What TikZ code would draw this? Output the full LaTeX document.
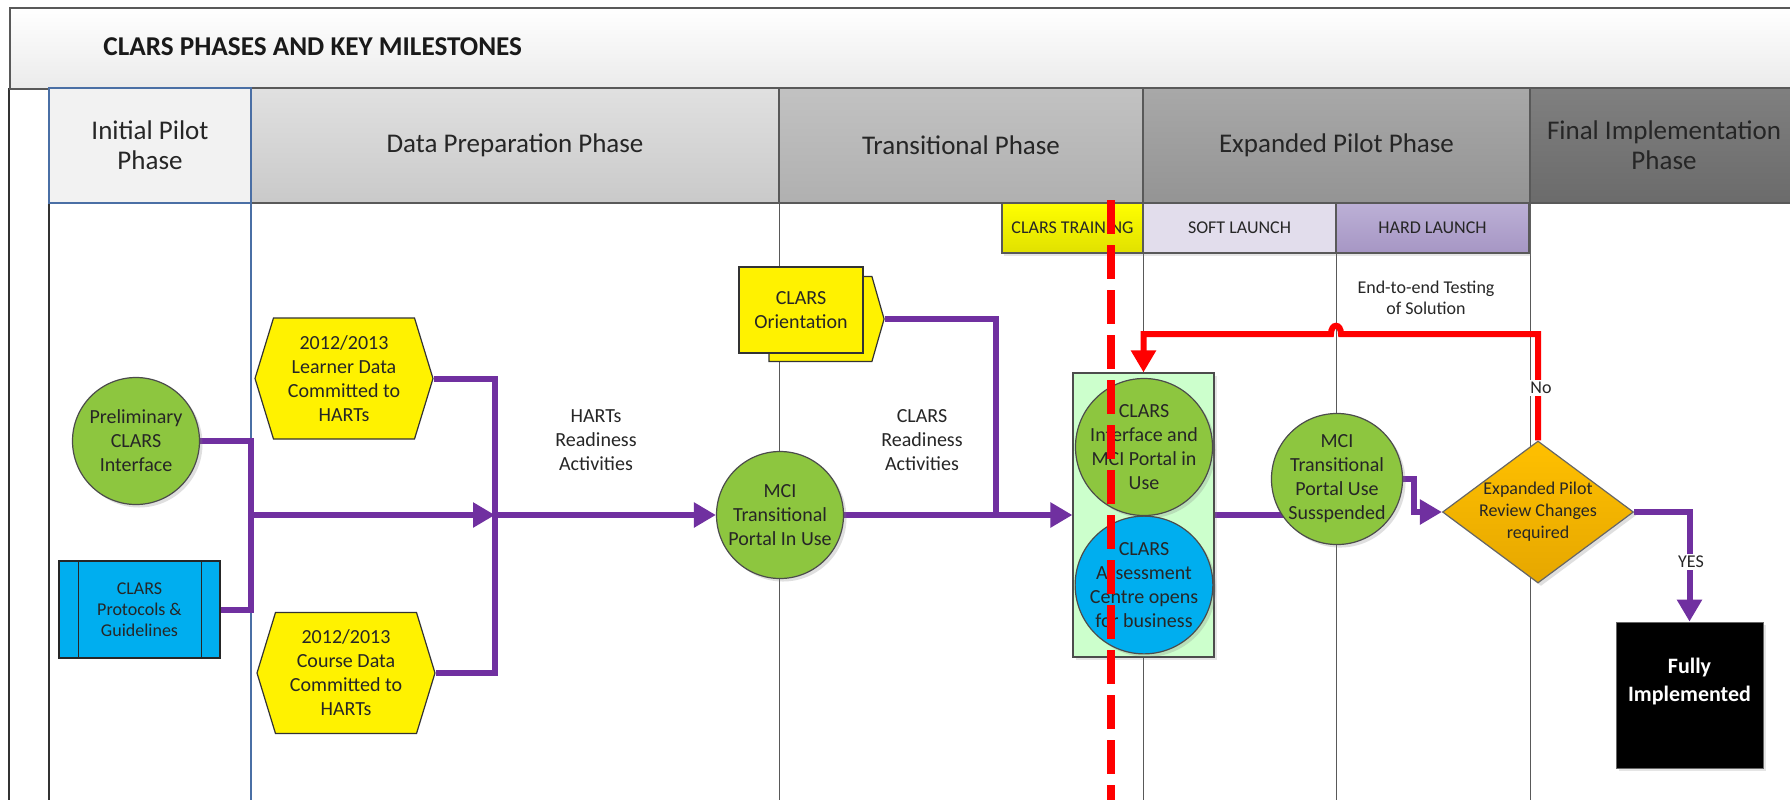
\documentclass[tikz,border=0pt]{standalone}
\usepackage{fontspec}
\setmainfont{Carlito}
\usepackage{xcolor}
\usetikzlibrary{shapes.geometric, shapes.symbols}
\usetikzlibrary{arrows.meta}
\usetikzlibrary{backgrounds, shadows}

\definecolor{clarsgreen}{HTML}{8DC63F}
\definecolor{clarsblue}{HTML}{00AEEF}
\definecolor{clarspurple}{HTML}{7030A0}
\definecolor{linegray}{HTML}{595959}
\definecolor{textgray}{HTML}{262626}
\definecolor{laneblue}{HTML}{4A6FA5}
\definecolor{boxgreen}{HTML}{CCFFCC}
\definecolor{softlilac}{HTML}{E2DDEC}
\definecolor{hardtop}{HTML}{BCB0D6}
\definecolor{hardbottom}{HTML}{A696C4}
\definecolor{goldtop}{HTML}{FFC000}
\definecolor{goldbottom}{HTML}{E6A700}

\tikzset{
  lanehead/.style={draw=linegray, line width=0.7pt, align=center, inner sep=0pt,
    minimum height=57.5pt, text=textgray, font=\fontsize{13.5}{15}\selectfont},
  subhead/.style={draw=linegray, line width=0.6pt, inner sep=0pt, minimum height=25pt,
    minimum width=96.5pt, text=textgray, font=\fontsize{9}{10}\selectfont,
    drop shadow={opacity=0.2, shadow xshift=1pt, shadow yshift=-1.5pt}},
  milestone/.style={circle, draw=black!70, line width=0.6pt, fill=clarsgreen, minimum size=63.5pt,
    inner sep=0pt, align=center, text=textgray, font=\fontsize{10}{12}\selectfont,
    drop shadow={opacity=0.25, shadow xshift=1.5pt, shadow yshift=-1.5pt}},
  datahex/.style={signal, signal to=east and west, signal pointer angle=146, draw=black!80,
    line width=0.6pt, fill=yellow, minimum width=89pt, minimum height=60.5pt, inner sep=0pt,
    align=center, text=textgray, font=\fontsize{10}{12}\selectfont},
  note/.style={align=center, text=textgray, font=\fontsize{10}{12}\selectfont},
  laneline/.style={draw=linegray, line width=0.5pt},
  flow/.style={draw=clarspurple, line width=3pt},
  flowarrow/.style={flow, -{Triangle[length=11pt, width=12pt]}},
  redflow/.style={draw=red, line width=3pt, -{Triangle[length=11pt, width=12pt]}},
}

\begin{document}
\begin{tikzpicture}[x=0.5pt, y=-0.5pt]
  \useasboundingbox (0,0) rectangle (1790,800);
  \clip (0,0) rectangle (1790,800);
  \begin{scope}[on background layer]
    \fill [white] (0,0) rectangle (1790,800);
    \draw [draw=black!80, line width=0.8pt] (9,88) -- (9,800);
    \draw [draw=black!80, line width=0.8pt] (49,88) -- (49,800);
    \draw [draw=laneblue, line width=0.7pt] (251,203) -- (251,800);
    \foreach \x in {779,1530}
      \draw [laneline] (\x,203) -- (\x,800);
    \foreach \x in {1143,1336}
      \draw [laneline] (\x,253) -- (\x,800);
  \end{scope}

  \node [draw=linegray, line width=0.8pt, top color=white, bottom color=black!8, inner sep=0pt,
    minimum width=895.5pt, minimum height=40.5pt, anchor=north west] (titleband) at (9,7) {};
  \node [anchor=west, inner sep=0pt, text=black!90, font=\bfseries\fontsize{13.6}{15}\selectfont]
    (title) at (103,47) {CLARS PHASES AND KEY MILESTONES};

  \node [lanehead, top color=black!12, bottom color=black!21, minimum width=264pt] (hddata) at (515,145.5) {Data Preparation Phase};
  \node [lanehead, top color=black!24, bottom color=black!31, minimum width=182pt] (hdtrans) at (961,145.5) {Transitional Phase};
  \node [lanehead, top color=black!34, bottom color=black!42, minimum width=193.5pt] (hdexp) at (1336.5,145.5) {Expanded Pilot Phase};
  \node [lanehead, top color=black!50, bottom color=black!58, minimum width=134pt] (hdfinal) at (1664,145.5) {Final Implementation\\Phase};
  \node [lanehead, draw=laneblue, fill=black!5, minimum width=101pt] (hdinit) at (150,145.5) {Initial Pilot\\Phase};

  \node [subhead, top color=yellow, bottom color=yellow!88!black, minimum width=70.5pt] (training) at (1072.5,228) {CLARS TRAINING};
  \node [subhead, fill=softlilac] (soft) at (1239.5,228) {SOFT LAUNCH};
  \node [subhead, top color=hardtop, bottom color=hardbottom] (hard) at (1432.5,228) {HARD LAUNCH};

  \node [milestone] (prelim) at (136,441) {Preliminary\\CLARS\\Interface};
  \node [draw=black!85, line width=0.6pt, fill=clarsblue, minimum width=80.5pt, minimum height=48.5pt,
    inner sep=0pt, align=center, text=textgray, font=\fontsize{9}{10.5}\selectfont]
    (protocols) at (139.5,609.5) {CLARS\\Protocols \&\\Guidelines};
  \draw [black!85, line width=0.6pt] ([xshift=10pt]protocols.north west) -- ([xshift=10pt]protocols.south west);
  \draw [black!85, line width=0.6pt] ([xshift=-9.5pt]protocols.north east) -- ([xshift=-9.5pt]protocols.south east);

  \node [datahex] (learner) at (344,378.5) {2012/2013\\Learner Data\\Committed to\\HARTs};
  \node [datahex] (course) at (346,673) {2012/2013\\Course Data\\Committed to\\HARTs};

  \node [signal, signal to=east, signal pointer angle=148, draw=black!80, line width=0.6pt, fill=yellow,
    inner sep=0pt, minimum width=57.5pt, minimum height=42.5pt] (orientback) at (820.5,319) {};
  \node [draw=black!80, line width=0.6pt, fill=yellow, inner sep=0pt, minimum width=62pt, minimum height=43pt,
    align=center, text=textgray, font=\fontsize{10}{12}\selectfont] (orient) at (801,310) {CLARS\\Orientation};

  \node [milestone] (mci) at (780,515) {MCI\\Transitional\\Portal In Use};

  \node [note] (hartsnote) at (596,440) {HARTs\\Readiness\\Activities};
  \node [note] (clarsnote) at (922,440) {CLARS\\Readiness\\Activities};
  \node [note, font=\fontsize{9}{10.5}\selectfont] (testnote) at (1426,298) {End-to-end Testing\\of Solution};

  \node [draw=black!70, line width=0.6pt, fill=boxgreen, inner sep=0pt, minimum width=70.5pt, minimum height=142pt,
    drop shadow={opacity=0.2, shadow xshift=1.5pt, shadow yshift=-1.5pt}] (pilotbox) at (1143.5,515) {};
  \node [milestone] (portals) at (1144,447) {CLARS\\Interface and\\MCI Portal in\\Use};
  \node [milestone, fill=clarsblue] (assess) at (1144,585) {CLARS\\Assessment\\Centre opens\\for business};

  \node [milestone] (susp) at (1337,479) {MCI\\Transitional\\Portal Use\\Susspended};

  \node [diamond, draw=black!60, line width=0.6pt, top color=goldtop, bottom color=goldbottom,
    inner sep=0pt, minimum width=95.5pt, minimum height=71pt,
    drop shadow={opacity=0.25, shadow xshift=1.5pt, shadow yshift=-1.5pt},
    label={[align=center, text=textgray, font=\fontsize{9}{11}\selectfont]center:Expanded Pilot\\Review Changes\\required}]
    (review) at (1538,512) {};

  \node [fill=black, draw=black!60, inner sep=0pt, minimum width=73.5pt, minimum height=73pt,
    drop shadow={opacity=0.2, shadow xshift=1.5pt, shadow yshift=-1.5pt},
    label={[text=white, align=center, yshift=7pt, font=\bfseries\fontsize{11}{14}\selectfont]center:Fully\\Implemented}]
    (fullimpl) at (1689.5,695) {};

  \coordinate (joinL) at (251,515);
  \coordinate (joinR) at (495,515);
  \coordinate (joinO) at (996,515);
  \begin{scope}[on background layer]
    \draw [flow] (prelim.east) -| (joinL) |- (protocols.east);
    \draw [flowarrow] (joinL) -- (joinR);
    \draw [flow] (learner.east) -| (joinR) |- (course.east);
    \draw [flowarrow] (joinR) -- (mci.west);
    \draw [flowarrow] (mci.east) -- (pilotbox.west);
    \draw [flow] (orientback.east) -| (joinO);
    \draw [flow] (pilotbox.east) -- (susp.center |- pilotbox.east);
    \draw [flowarrow] (susp.east) -- ++(11,0) |- (review.west);
    \draw [flowarrow] (review.east) -| (fullimpl.north);
    \draw [redflow] (review.north) |- (1341,334) .. controls (1341,323) and (1331,323) .. (1331,334)
      -- (1143.5,334) -- (pilotbox.north);
  \end{scope}

  \node [fill=white, inner sep=1pt, text=textgray, font=\fontsize{9}{10}\selectfont] (nolabel) at (1541,388) {No};
  \node [fill=white, inner sep=1pt, text=textgray, font=\fontsize{9}{10}\selectfont] (yeslabel) at (1691,562) {YES};

  \draw [red, line width=4pt, dash pattern=on 17pt off 5.5pt] (1111,200) -- (1111,800);
\end{tikzpicture}
\end{document}
